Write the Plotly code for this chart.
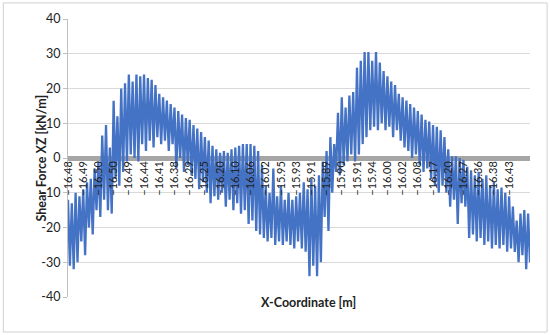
import plotly.graph_objects as go

# category labels shown on the x axis (one every 8 samples)
x_labels = [
    "−16.48", "−16.49", "−16.50", "−16.50", "−16.49", "−16.44", "−16.41", "−16.38",
    "−16.29", "−16.25", "−16.20", "−16.10", "−16.06", "−16.02", "−15.95", "−15.93",
    "−15.91", "−15.89", "−15.90", "−15.91", "−15.94", "−16.00", "−16.02", "−16.08",
    "−16.17", "−16.20", "−16.27", "−16.36", "−16.38", "−16.43",
]
samples_per_label = 8

y_ticks = [-40, -30, -20, -10, 0, 10, 20, 30, 40]
y_tick_text = ["-40", "-30", "-20", "-10", "0", "10", "20", "30", "40"]

shear_force = [
    -12, -31, -13, -32, -10, -30, -11, -24, -9, -28, -7, -20, -6, -22, -3, -15,
    -1, -17, 6.5, -12, 9.5, -15, 3, -16, 16.5, -6, 12, -8, 20, -4, 21.5, -1,
    24, 1, 22, 0, 24, -1, 23.5, 4, 24, 2, 23, 5, 22.5, 3, 21, 6,
    18.5, 4, 17.5, 5, 16.5, 2, 15.5, 4, 14.5, -3, 13.5, 0, 12.5, -4,
    11.5, -2, 11, -5, 9.5, -6, 8.5, -9, 7.5, -7, 6, -10, 5, -13,
    3.5, -11, 2.5, -12, 1.5, -10, 2, -14, 1.5, -12, 2.5, -15, 3, -13,
    3.5, -16, 4, -15, 4, -19, 4, -18, 3.5, -21, 2, -22, -2, -23,
    -8, -24, -10, -23, -3, -25, -11, -24, -8, -25, -12, -24, -10, -25,
    -12, -26, -11, -24, -10, -26, -7, -27, -9, -34, -6, -31, -8, -34,
    -5, -30, -1, -17, 2, -21, 6, -10, 4, -4, 13, -5, 17.5, -2,
    14.5, -1, 18, 1, 19, -1, 26, 1, 28, 4, 30.5, 6, 30.5, 8,
    28, 9, 30.5, 8, 27.5, 10, 25, 8, 23.5, 9, 22, 6, 21, 8,
    18.5, 5, 17.5, 3, 16.5, 2, 15.5, 0, 14.5, 1, 13.5, -2, 12.5, -4,
    11, -3, 10.5, -6, 9.5, -8, 9, -10, 8, -8, 6, -10, 2.5, -14,
    0.5, -12, 0.5, -19, 0, -13, -0.5, -14, -2.5, -23, -3.5, -22, -5, -24,
    -4, -23, -6, -25, -5, -24, -8, -26, -7, -25, -9, -26, -8.5, -25,
    -10, -27, -11, -26, -14, -27, -18, -30, -16, -28, -15, -32, -16, -30,
]

font_family = "Lato, 'Liberation Sans', sans-serif"

fig = go.Figure()
fig.add_trace(go.Scatter(
    x=list(range(len(shear_force))),
    y=shear_force,
    mode="lines",
    line=dict(color="#4472C4", width=2.3),
    showlegend=False,
))

# chart frame around the whole figure
fig.add_shape(
    type="rect", xref="paper", yref="paper",
    x0=-0.14, x1=1.037, y0=-0.126, y1=1.058,
    line=dict(color="#D0D0D0", width=1), layer="below",
)

fig.add_annotation(
    text="<b>X-Coordinate [m]</b>", xref="paper", yref="paper",
    x=0.52, y=-0.055, showarrow=False,
    font=dict(size=12.5, color="#222", family=font_family),
)
fig.add_annotation(
    text="<b>Shear Force XZ [kN/m]</b>", xref="paper", yref="paper",
    x=-0.08, y=0.5, textangle=-90, showarrow=False,
    font=dict(size=12.5, color="#222", family=font_family),
)

fig.update_layout(
    width=550, height=335,
    margin=dict(l=68, r=20, t=19, b=38),
    plot_bgcolor="white", paper_bgcolor="white",
    font=dict(family=font_family, color="#222"),
    xaxis=dict(
        range=[0, len(shear_force) - 1],
        tickvals=[i * samples_per_label for i in range(len(x_labels))],
        ticktext=x_labels,
        tickangle=-90,
        tickfont=dict(size=11),
        anchor="free", position=0.5, automargin=False,
        showgrid=False, zeroline=False, showline=False, ticks="",
    ),
    yaxis=dict(
        range=[-40, 40], automargin=False,
        tickvals=y_ticks, ticktext=y_tick_text,
        tickfont=dict(size=12.5),
        showgrid=True, gridcolor="#D9D9D9", gridwidth=1,
        zeroline=True, zerolinecolor="#A6A6A6", zerolinewidth=5,
        showline=True, linecolor="#BFBFBF", linewidth=1,
        ticks="outside", ticklen=4, tickcolor="#BFBFBF",
    ),
)

fig.write_html(
    "out.html",
    config={"displayModeBar": False},
    post_script="document.body.style.margin = '0';",
)
